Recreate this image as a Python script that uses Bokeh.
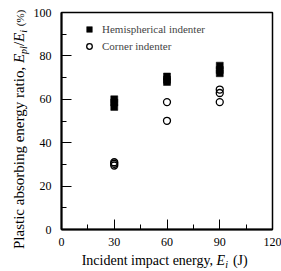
from bokeh.plotting import figure
from bokeh.models import Range1d, FixedTicker, Legend, LegendItem, Div
from bokeh.layouts import row, column
from bokeh.embed import file_html
from bokeh.resources import INLINE

# ---- data ----
hemi_energy = [30, 30, 30, 60, 60, 60, 90, 90, 90]
hemi_ratio = [56.5, 58.5, 60.0, 68.0, 69.0, 70.5, 72.0, 73.5, 75.5]
corner_energy = [30, 30, 30, 60, 60, 90, 90, 90]
corner_ratio = [29.5, 30.3, 31.0, 58.7, 50.1, 64.5, 62.9, 58.7]
x_ticks = [0, 30, 60, 90, 120]
x_minor = [15, 45, 75, 105]
y_ticks = [0, 20, 40, 60, 80, 100]
y_minor = [10, 30, 50, 70, 90]

FONT = "Liberation Serif"

YLAB_W = 30
FIG_W, FIG_H = 251, 250
XLAB_H = 21

p = figure(width=FIG_W, height=FIG_H, output_backend="svg", toolbar_location=None,
           x_range=Range1d(0, 120), y_range=Range1d(0, 100),
           min_border_left=30, min_border_right=9,
           min_border_top=12, min_border_bottom=21, margin=0)
p.background_fill_color = "white"
p.border_fill_color = "white"
p.grid.visible = False
p.outline_line_color = "black"
p.outline_line_width = 1.5

p.xaxis.ticker = FixedTicker(ticks=x_ticks, minor_ticks=x_minor)
p.yaxis.ticker = FixedTicker(ticks=y_ticks, minor_ticks=y_minor)
for ax in (p.xaxis, p.yaxis):
    ax.axis_line_width = 2
    ax.axis_line_color = "black"
    ax.major_tick_in = 10
    ax.major_tick_out = 0
    ax.minor_tick_in = 5
    ax.minor_tick_out = 0
    ax.major_tick_line_color = "black"
    ax.minor_tick_line_color = "black"
    ax.major_tick_line_width = 1
    ax.minor_tick_line_width = 1
    ax.major_label_text_font = FONT
    ax.major_label_text_font_size = "12px"
    ax.major_label_text_color = "black"
p.xaxis.major_label_standoff = 8
p.yaxis.major_label_standoff = 10

r_hemi = p.scatter(hemi_energy, hemi_ratio, marker="square", size=7,
                   fill_color="black", line_color="black", line_width=0.5)
r_corner = p.scatter(corner_energy, corner_ratio, marker="circle", size=7,
                     fill_color=None, line_color="black", line_width=1.3)

legend = Legend(items=[LegendItem(label="Hemispherical indenter", renderers=[r_hemi]),
                       LegendItem(label="Corner indenter", renderers=[r_corner])],
                location=(21, 175), padding=0, margin=0, spacing=1,
                glyph_width=14, glyph_height=16, label_height=16, label_standoff=6,
                border_line_color=None, background_fill_alpha=0,
                label_text_font=FONT, label_text_font_size="11px")
p.add_layout(legend)

SUB = "font-size:10px;vertical-align:-3px;"
base = "position:absolute;white-space:nowrap;font-family:'Liberation Serif';line-height:1;color:#000;"

ylab_html = (
    f'<span style="{base}left:11.5px;top:249px;font-size:15px;'
    'transform-origin:0 0;transform:rotate(-90deg);">'
    'Plastic absorbing energy ratio, <i>E</i>'
    f'<span style="{SUB}"><i>pl</i></span>/<i>E</i>'
    f'<span style="{SUB}"><i>i</i></span> '
    '<span style="font-size:11px;">(%)</span></span>'
)
xlab_html = (
    f'<span style="{base}left:51.7px;top:4px;font-size:14px;">'
    'Incident impact energy, <i>E</i>'
    f'<span style="{SUB}"><i>i</i></span>'
    '<span style="margin-left:5px;">(J)</span></span>'
)

ylab = Div(text=ylab_html, width=YLAB_W, height=FIG_H + XLAB_H, margin=0,
           styles={"position": "relative", "overflow": "visible"})
xlab = Div(text=xlab_html, width=FIG_W, height=XLAB_H, margin=0,
           styles={"position": "relative", "overflow": "visible"})

layout = row(ylab, column(p, xlab, spacing=0, margin=0), spacing=0, margin=0)

open("out.html", "w").write(file_html(layout, INLINE))
